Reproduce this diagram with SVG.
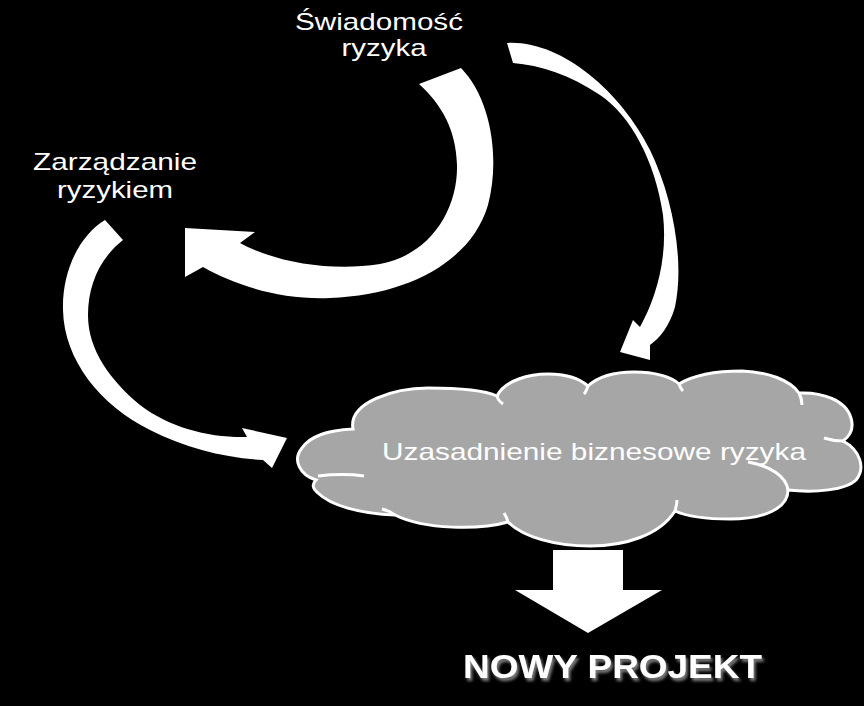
<svg xmlns="http://www.w3.org/2000/svg" width="864" height="706" viewBox="0 0 864 706">
<defs>
<style>
.lbl{font-family:"Liberation Sans",Arial,sans-serif;fill:#ffffff;font-size:24px}
.big{font-family:"Liberation Sans",Arial,sans-serif;fill:#ffffff;font-size:33px;font-weight:bold}
.arrow{fill:#ffffff;stroke:none}
.crease{fill:none;stroke:#ffffff;stroke-width:3}
</style>
<filter id="sh" x="-10%" y="-30%" width="130%" height="180%">
<feGaussianBlur in="SourceAlpha" stdDeviation="1.5"/>
<feOffset dx="2" dy="3" result="o"/>
<feFlood flood-color="#7f7f7f"/>
<feComposite in2="o" operator="in"/>
<feMerge><feMergeNode/><feMergeNode in="SourceGraphic"/></feMerge>
</filter>
</defs>
<rect width="864" height="706" fill="#000000"/>
<g id="connectors">
<path class="arrow" d="M419,84 L461,68 C492,100 500,160 488,205 C472,260 410,295 330,298 C280,300 235,285 203,267 L185,277 L185,228 L255,232 L240,243 C275,262 330,272 380,264 C430,255 458,210 457,165 C456,130 442,105 419,84 Z"/>
<path class="arrow" d="M507,43 C560,40 620,90 650,150 C672,195 685,260 675,307 C670,325 660,338 650,345 L650,360 L620,352 L633,320 L640,327 C655,300 668,260 663,215 C655,160 630,115 600,95 C570,75 540,65 513,63 Z"/>
<path class="arrow" d="M105,220 C80,235 62,270 63,310 C64,360 100,405 150,430 C185,448 225,458 263,460 L272,468 L287,438 L242,428 L247,437 C210,438 170,428 140,405 C110,380 88,350 88,315 C88,285 100,258 123,240 Z"/>
<path class="arrow" d="M553,550 L623,550 L623,590 L662,590 L588,633 L515,590 L553,590 Z"/>
</g>
<g id="swiadomosc">
<text class="lbl" x="379" y="30" text-anchor="middle" textLength="168" lengthAdjust="spacingAndGlyphs">Świadomość</text>
<text class="lbl" x="384" y="56" text-anchor="middle" textLength="85" lengthAdjust="spacingAndGlyphs">ryzyka</text>
</g>
<g id="zarzadzanie">
<text class="lbl" x="115" y="170" text-anchor="middle" textLength="164" lengthAdjust="spacingAndGlyphs">Zarządzanie</text>
<text class="lbl" x="115" y="198" text-anchor="middle" textLength="116" lengthAdjust="spacingAndGlyphs">ryzykiem</text>
</g>
<g id="cloud">
<path fill="#a6a6a6" stroke="#ffffff" stroke-width="3" d="M316,480 C300,475 292,460 302,448 C310,436 330,430 353,429 C348,402 395,388 428,388 C462,388 486,391 497,396 C505,380 530,374 548,374 C566,374 580,379 588,386 C600,375 618,372 634,372 C655,372 672,377 679,384 C697,373 722,371 742,371 C768,372 790,380 799,393 C822,392 846,400 851,418 C854,428 850,436 843,441 C860,450 866,468 856,480 C846,490 815,493 788,490 C788,508 765,519 730,519 C705,519 686,516 675,511 C660,535 625,546 590,546 C555,546 523,537 508,522 C480,530 425,530 395,515 C360,514 330,505 318,493 C312,488 312,484 316,480 Z"/>
<path class="crease" d="M318,476 C335,474 350,474 364,476"/>
<path class="crease" d="M497,396 C498,400 500,402 503,404"/>
<path class="crease" d="M588,386 C587,389 586,392 584,394"/>
<path class="crease" d="M679,384 C680,387 681,389 683,391"/>
<path class="crease" d="M799,393 C801,397 802,401 802,405"/>
<path class="crease" d="M843,441 C836,441 830,440 824,438"/>
<path class="crease" d="M748,462 C770,466 786,476 788,490"/>
<path class="crease" d="M675,511 C676,507 677,504 677,500"/>
<path class="crease" d="M508,522 C507,518 506,516 504,513"/>
<path class="crease" d="M395,515 C391,512 387,510 382,509"/>
<text class="lbl" x="382" y="460" textLength="424" lengthAdjust="spacingAndGlyphs">Uzasadnienie biznesowe ryzyka</text>
</g>
<g id="nowy-projekt">
<text class="big" x="463" y="678" textLength="299" lengthAdjust="spacingAndGlyphs" filter="url(#sh)">NOWY PROJEKT</text>
</g>
</svg>
